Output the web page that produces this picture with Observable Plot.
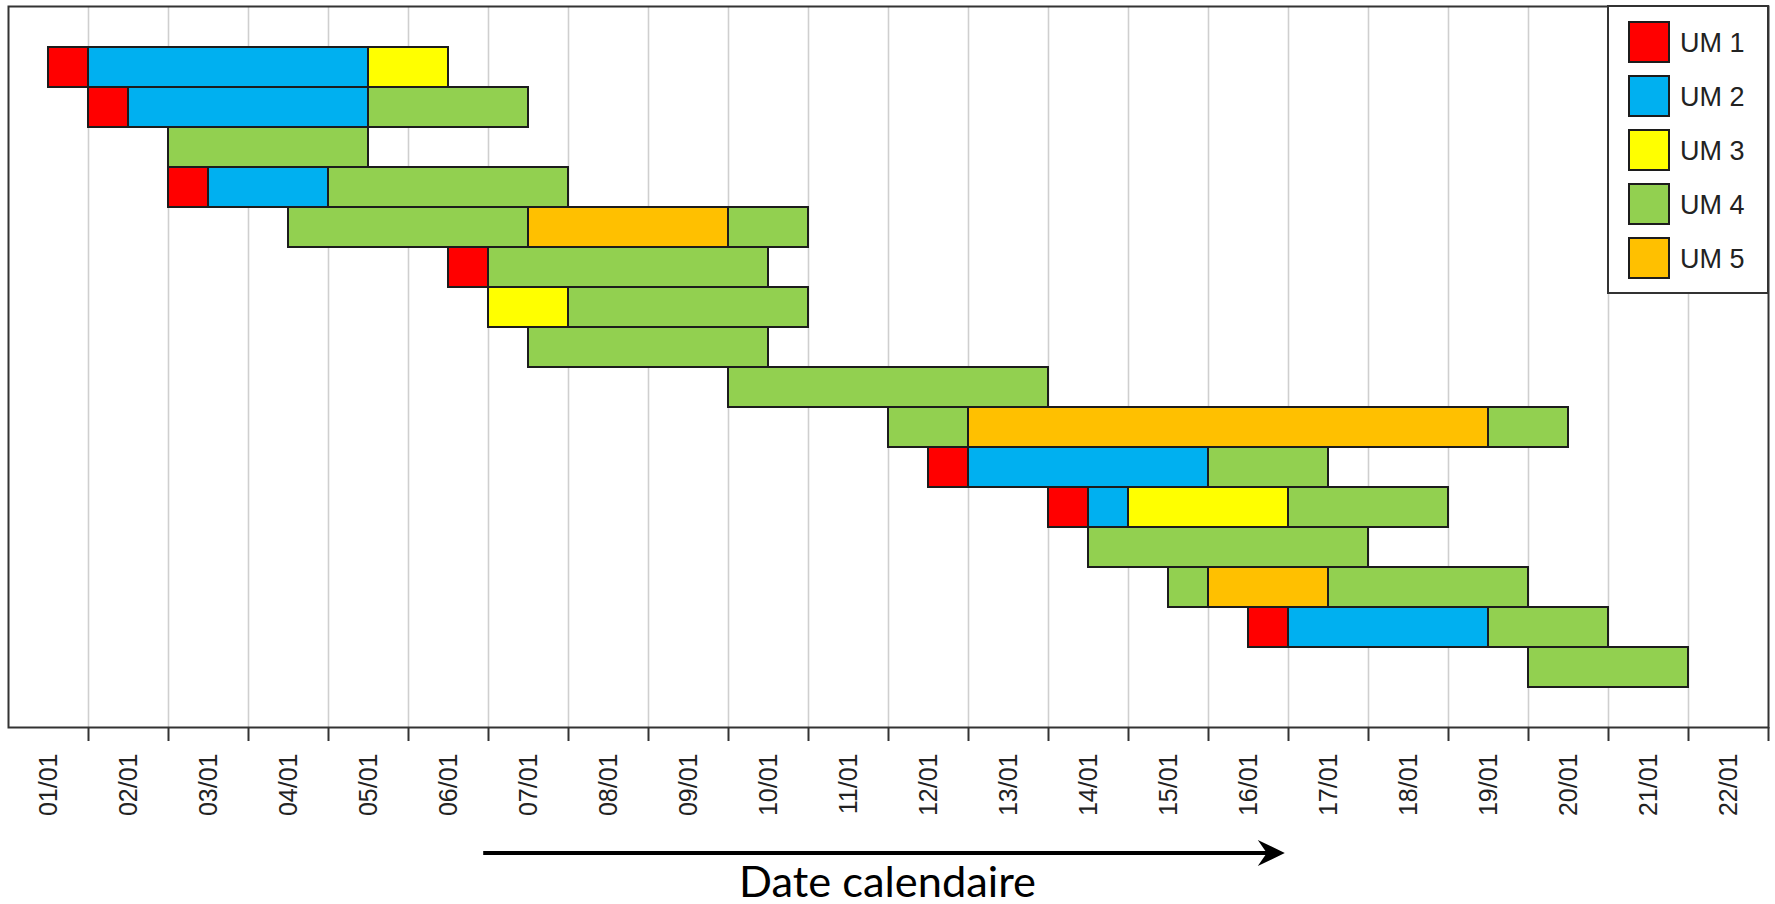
<!DOCTYPE html>
<html>
<head>
<meta charset="utf-8">
<script src="https://cdn.jsdelivr.net/npm/d3@7"></script>
<script src="https://cdn.jsdelivr.net/npm/@observablehq/plot@0.6"></script>
<style>
  html, body { margin: 0; padding: 0; background: #fff; }
  #chart svg { display: block; }
</style>
</head>
<body>
<div id="chart"></div>
<script>
// ---------- data ----------
const tasks = ["OF 1","OF 2","OF 3","OF 4","OF 5","OF 6","OF 7","OF 8",
               "OF 9","OF 10","OF 11","OF 12","OF 13","OF 14","OF 15","OF 16"];
const umNames = ["UM 1","UM 2","UM 3","UM 4","UM 5"];
const umColors = ["#FF0000","#00B0F0","#FFFF00","#92D050","#FFC000"];
const dayLabels = ["01/01","02/01","03/01","04/01","05/01","06/01","07/01","08/01",
                   "09/01","10/01","11/01","12/01","13/01","14/01","15/01","16/01",
                   "17/01","18/01","19/01","20/01","21/01","22/01"];
// [task number, UM, start, end] — start/end in days since 01/01 00:00
const schedule = [
  [1,"UM 1",0.5,1],[1,"UM 2",1,4.5],[1,"UM 3",4.5,5.5],
  [2,"UM 1",1,1.5],[2,"UM 2",1.5,4.5],[2,"UM 4",4.5,6.5],
  [3,"UM 4",2,4.5],
  [4,"UM 1",2,2.5],[4,"UM 2",2.5,4],[4,"UM 4",4,7],
  [5,"UM 4",3.5,6.5],[5,"UM 5",6.5,9],[5,"UM 4",9,10],
  [6,"UM 1",5.5,6],[6,"UM 4",6,9.5],
  [7,"UM 3",6,7],[7,"UM 4",7,10],
  [8,"UM 4",6.5,9.5],
  [9,"UM 4",9,13],
  [10,"UM 4",11,12],[10,"UM 5",12,18.5],[10,"UM 4",18.5,19.5],
  [11,"UM 1",11.5,12],[11,"UM 2",12,15],[11,"UM 4",15,16.5],
  [12,"UM 1",13,13.5],[12,"UM 2",13.5,14],[12,"UM 3",14,16],[12,"UM 4",16,18],
  [13,"UM 4",13.5,17],
  [14,"UM 4",14.5,15],[14,"UM 5",15,16.5],[14,"UM 4",16.5,19],
  [15,"UM 1",15.5,16],[15,"UM 2",16,18.5],[15,"UM 4",18.5,20],
  [16,"UM 4",19,21]
];
const axisCaption = "Date calendaire";
const arrowFrom = 5.94, arrowTo = 15.96; // days since 01/01

// ---------- helpers ----------
const base = Date.UTC(2024, 0, 1);
const toDate = d => new Date(base + d * 864e5);
const dayIndex = dt => Math.round((dt - base) / 864e5 - 0.5);

const FONT = "'Liberation Sans', Arial, sans-serif";

const chart = Plot.plot({
  width: 1775,
  height: 904,
  marginTop: 6,
  marginBottom: 177,
  marginLeft: 8,
  marginRight: 7,
  style: { fontFamily: FONT, background: "#fff", overflow: "visible" },
  x: { type: "utc", domain: [toDate(0), toDate(dayLabels.length)] },
  y: { domain: tasks, paddingInner: 0, paddingOuter: 1, axis: null },
  color: { domain: umNames, range: umColors },
  marks: [
    Plot.gridX({ ticks: d3.range(1, dayLabels.length).map(toDate), stroke: "#cfcfcf", strokeOpacity: 1, strokeWidth: 1.6 }),
    Plot.barX(schedule, {
      y: d => tasks[d[0] - 1],
      x1: d => toDate(d[2]),
      x2: d => toDate(d[3]),
      fill: d => d[1],
      stroke: "#1c1c1c",
      strokeWidth: 2
    }),
    Plot.frame({ stroke: "#333", strokeWidth: 2 }),
    Plot.axisX({ ticks: d3.range(1, dayLabels.length + 1).map(toDate), tickSize: 14, stroke: "#333", strokeWidth: 2, fill: "none", label: null }),
    Plot.axisX({
      ticks: d3.range(dayLabels.length).map(i => toDate(i + 0.5)),
      tickFormat: dt => dayLabels[dayIndex(dt)],
      tickSize: 0, tickPadding: 26, tickRotate: -90,
      fontSize: 25, fill: "#222", label: null
    })
  ]
});
document.getElementById("chart").appendChild(chart);

// ---------- legend (drawn into the same SVG, using Plot's color scale) ----------
const svg = d3.select(chart);
const color = chart.scale("color");
const lg = svg.append("g").attr("font-family", FONT).attr("text-anchor", "start");
lg.append("rect").attr("x", 1608).attr("y", 6).attr("width", 160).attr("height", 287)
  .attr("fill", "#fff").attr("stroke", "#333").attr("stroke-width", 2);
umNames.forEach((name, i) => {
  lg.append("rect").attr("x", 1629).attr("y", 22 + 54 * i).attr("width", 40).attr("height", 40)
    .attr("fill", color.apply(name)).attr("stroke", "#1c1c1c").attr("stroke-width", 2);
  lg.append("text").attr("x", 1680).attr("y", 42 + 54 * i).attr("dy", "0.36em")
    .attr("text-anchor", "start")
    .attr("font-size", 27).attr("fill", "#222").text(name);
});

// ---------- arrow + caption under the axis ----------
const xs = chart.scale("x");
const ax1 = xs.apply(toDate(arrowFrom)), ax2 = xs.apply(toDate(arrowTo));
const ay = 853;
const ann = svg.append("g");
ann.append("line").attr("x1", ax1).attr("x2", ax2 - 14).attr("y1", ay).attr("y2", ay)
  .attr("stroke", "#000").attr("stroke-width", 4);
ann.append("path")
  .attr("d", `M${ax2},${ay} L${ax2 - 27},${ay - 13} L${ax2 - 18},${ay} L${ax2 - 27},${ay + 13} Z`)
  .attr("fill", "#000");
ann.append("text").attr("x", 739).attr("y", 897)
  .attr("text-anchor", "start")
  .attr("font-family", "Lato, 'Open Sans', sans-serif").attr("font-size", 42)
  .attr("textLength", 297).attr("lengthAdjust", "spacingAndGlyphs")
  .attr("fill", "#000").text(axisCaption);
</script>
</body>
</html>
